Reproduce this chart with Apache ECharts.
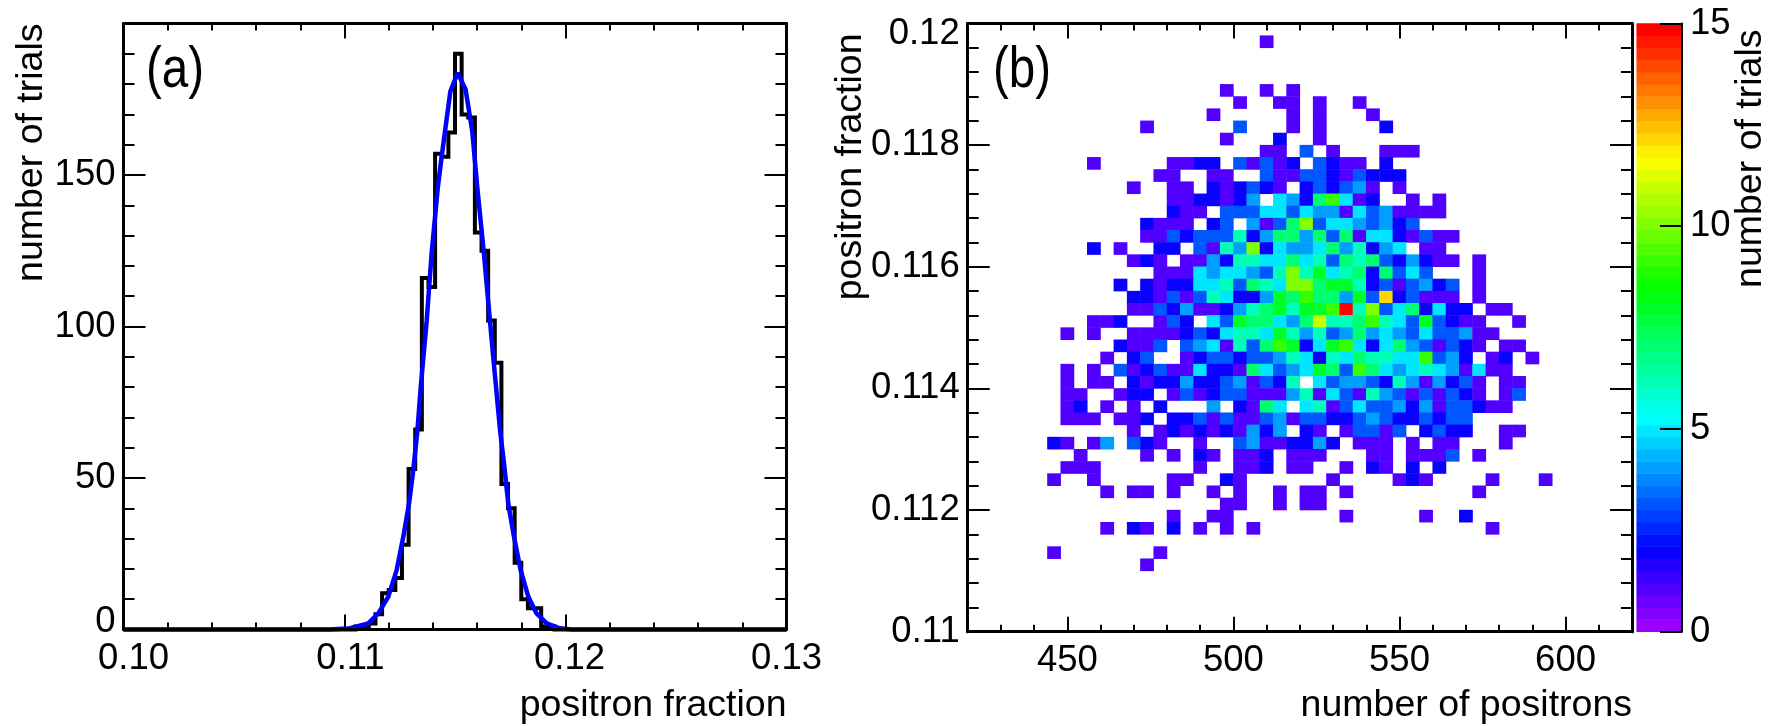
<!DOCTYPE html>
<html>
<head>
<meta charset="utf-8">
<style>html,body{margin:0;padding:0;background:#fff}#c{width:1779px;height:726px}</style>
<script src="https://cdn.jsdelivr.net/npm/echarts@6/dist/echarts.min.js"></script>
</head>
<body>
<div id="c"></div>
<script>
// ---- panel (a): histogram of positron fraction, 100 bins from 0.10 to 0.13
const histFirstBin = 35;
const histCounts = [1,1,2,5,12,13,17,28,53,66,116,113,157,156,164,190,170,169,131,125,102,88,48,40,22,10,7,7,1,1];
// fitted curve
const fitFraction = [0.10,0.10934,0.11025,0.11108,0.11153,0.11198,0.11236,0.11266,0.11292,0.11311,0.1133,0.11345,0.11372,0.11394,0.11422,0.11441,0.11455,0.11479,0.11512,0.11548,0.11578,0.11601,0.11631,0.11658,0.11676,0.11704,0.11722,0.11741,0.11767,0.11797,0.11832,0.11869,0.11915,0.11975,0.1203,0.13];
const fitTrials = [0,0,0.4,2,5.3,10.8,19.6,30.6,41.5,52.5,65.7,80,102,123.9,145.8,156.8,164.5,177.6,183.7,178.2,164.5,145.8,123.9,102,87.6,65.7,54.7,41.5,30.6,19.6,10.8,5.3,2,0.4,0,0];
const positronMajorTicks = [450,500,550,600];
// ---- panel (b): 2-D histogram, rows from top (row 48) to bottom (row 5), columns 6..43
const topRow = 48;
const firstColumn = 6;
const cellRows = [
 [0,0,0,0,0, 0,0,0,0,0, 0,0,0,0,0, 0,1,0,0,0, 0,0,0,0,0, 0,0,0,0,0, 0,0,0,0,0, 0,0,0],
 [0,0,0,0,0, 0,0,0,0,0, 0,0,0,0,0, 0,0,0,0,0, 0,0,0,0,0, 0,0,0,0,0, 0,0,0,0,0, 0,0,0],
 [0,0,0,0,0, 0,0,0,0,0, 0,0,0,0,0, 0,0,0,0,0, 0,0,0,0,0, 0,0,0,0,0, 0,0,0,0,0, 0,0,0],
 [0,0,0,0,0, 0,0,0,0,0, 0,0,0,0,0, 0,0,0,0,0, 0,0,0,0,0, 0,0,0,0,0, 0,0,0,0,0, 0,0,0],
 [0,0,0,0,0, 0,0,0,0,0, 0,0,0,1,0, 0,1,0,1,0, 0,0,0,0,0, 0,0,0,0,0, 0,0,0,0,0, 0,0,0],
 [0,0,0,0,0, 0,0,0,0,0, 0,0,0,0,1, 0,0,1,1,0, 1,0,0,1,0, 0,0,0,0,0, 0,0,0,0,0, 0,0,0],
 [0,0,0,0,0, 0,0,0,0,0, 0,0,1,0,0, 0,0,0,1,0, 1,0,0,0,1, 0,0,0,0,0, 0,0,0,0,0, 0,0,0],
 [0,0,0,0,0, 0,0,1,0,0, 0,0,0,0,3, 0,0,0,1,0, 1,0,0,0,0, 2,0,0,0,0, 0,0,0,0,0, 0,0,0],
 [0,0,0,0,0, 0,0,0,0,0, 0,0,0,1,0, 0,0,2,0,0, 1,0,0,0,0, 0,0,0,0,0, 0,0,0,0,0, 0,0,0],
 [0,0,0,0,0, 0,0,0,0,0, 0,0,0,0,0, 0,1,1,0,3, 0,1,0,0,0, 1,1,1,0,0, 0,0,0,0,0, 0,0,0],
 [0,0,0,1,0, 0,0,0,0,1, 1,2,2,0,3, 1,3,1,2,0, 3,2,1,1,0, 2,0,0,0,0, 0,0,0,0,0, 0,0,0],
 [0,0,0,0,0, 0,0,0,1,1, 0,0,1,1,0, 0,3,1,1,3, 3,2,1,3,2, 2,2,0,0,0, 0,0,0,0,0, 0,0,0],
 [0,0,0,0,0, 0,1,0,0,1, 1,0,2,1,2, 3,2,1,0,2, 3,2,3,4,1, 0,1,0,0,0, 0,0,0,0,0, 0,0,0],
 [0,0,0,0,0, 0,0,0,0,1, 1,2,2,1,2, 4,0,5,4,2, 7,9,5,1,2, 0,0,1,0,1, 0,0,0,0,0, 0,0,0],
 [0,0,0,0,0, 0,0,0,0,2, 1,1,0,3,3, 3,5,5,3,5, 4,4,1,5,3, 4,1,1,1,1, 0,0,0,0,0, 0,0,0],
 [0,0,0,0,0, 0,0,2,1,1, 1,0,2,3,0, 4,1,3,7,10, 3,5,5,4,3, 4,2,3,0,0, 0,0,0,0,0, 0,0,0],
 [0,0,0,0,0, 0,0,1,1,3, 2,3,3,3,6, 2,4,7,7,4, 7,3,7,1,5, 5,2,1,3,1, 1,0,0,0,0, 0,0,0],
 [0,0,0,2,0, 1,0,0,2,2, 0,3,1,6,4, 10,2,5,4,4, 5,7,4,6,2, 4,5,0,1,1, 0,0,0,0,0, 0,0,0],
 [0,0,0,0,0, 0,1,2,1,0, 1,1,4,2,6, 6,5,5,7,5, 6,3,7,6,7, 3,2,4,2,1, 1,0,1,0,0, 0,0,0],
 [0,0,0,0,0, 0,0,0,1,1, 1,5,4,5,5, 4,3,6,10,6, 8,5,6,7,2, 7,3,5,3,0, 0,0,1,0,0, 0,0,0],
 [0,0,0,0,0, 2,0,2,1,2, 2,5,5,6,3, 7,6,5,10,10, 7,8,8,6,2, 3,1,3,4,2, 3,0,1,0,0, 0,0,0],
 [0,0,0,0,0, 0,2,2,1,3, 1,3,6,5,2, 2,4,8,7,9, 7,7,4,8,3, 12,2,3,1,1, 1,0,1,0,0, 0,0,0],
 [0,0,0,0,0, 0,1,1,3,2, 4,1,1,2,4, 6,7,8,6,8, 8,9,15,6,10, 3,5,7,2,5, 2,2,0,1,1, 0,0,0],
 [0,0,0,1,1, 2,0,0,1,3, 2,0,5,3,8, 7,7,5,4,7, 11,6,6,7,9, 6,5,3,8,3, 2,1,1,0,0, 1,0,0],
 [0,1,0,1,0, 0,1,1,1,1, 2,3,2,5,6, 6,5,8,6,4, 6,3,4,7,4, 5,4,3,5,3, 3,4,1,1,0, 0,0,0],
 [0,0,0,0,0, 2,1,1,3,0, 3,4,5,1,6, 3,7,9,8,2, 5,8,9,5,2, 5,7,4,3,1, 3,2,1,0,1, 1,0,0],
 [0,0,0,0,1, 0,2,3,0,0, 1,2,3,3,2, 3,3,4,6,5, 2,6,5,7,6, 6,5,5,9,3, 4,2,0,1,2, 0,1,0],
 [0,1,0,1,0, 3,1,2,3,1, 1,5,2,2,1, 7,5,3,4,5, 8,7,3,9,7, 5,4,5,6,5, 4,1,5,1,1, 0,0,0],
 [0,1,0,1,1, 0,2,1,2,2, 4,2,2,3,4, 1,3,2,6,0, 5,3,4,4,3, 2,6,4,1,4, 2,3,1,0,1, 1,0,0],
 [0,1,1,0,0, 1,2,2,0,1, 3,1,2,3,3, 1,1,1,4,6, 1,5,3,1,6, 4,3,1,3,1, 3,2,1,0,1, 3,0,0],
 [0,1,2,0,1, 0,1,0,2,0, 0,0,4,0,2, 1,7,5,0,5, 6,1,3,5,3, 3,4,2,4,1, 3,3,2,1,1, 0,0,0],
 [0,1,1,1,0, 1,1,2,0,2, 2,3,1,3,1, 1,3,4,1,3, 3,2,2,3,4, 3,2,2,3,2, 3,3,0,0,0, 0,0,0],
 [0,0,0,0,0, 0,1,0,1,2, 1,2,1,2,1, 4,2,4,0,2, 1,0,1,3,3, 1,3,0,2,3, 2,2,0,0,1, 1,0,0],
 [2,1,0,1,4, 0,3,2,1,0, 0,1,0,0,3, 4,1,1,2,2, 4,2,0,1,1, 1,0,1,0,1, 1,0,0,0,1, 0,0,0],
 [0,0,1,0,0, 0,0,1,0,1, 0,2,1,0,1, 1,2,0,1,1, 1,0,0,0,1, 1,0,1,1,1, 3,0,1,0,0, 0,0,0],
 [0,1,1,1,0, 0,0,0,0,0, 0,1,0,0,1, 1,2,0,1,1, 0,0,1,0,2, 1,0,2,0,2, 0,0,0,0,0, 0,0,0],
 [1,0,0,1,0, 0,0,0,0,1, 1,0,0,2,1, 0,0,0,0,0, 0,1,0,0,0, 0,1,2,1,0, 0,0,0,1,0, 0,0,1],
 [0,0,0,0,1, 0,1,1,0,1, 0,0,1,0,1, 0,0,1,0,1, 1,0,1,0,0, 0,0,0,0,0, 0,0,1,0,0, 0,0,0],
 [0,0,0,0,0, 0,0,0,0,0, 0,0,0,1,1, 0,0,1,0,1, 1,0,0,0,0, 0,0,0,0,0, 0,0,0,0,0, 0,0,0],
 [0,0,0,0,0, 0,0,0,0,1, 0,0,1,1,0, 0,0,0,0,0, 0,0,1,0,0, 0,0,0,1,0, 0,2,0,0,0, 0,0,0],
 [0,0,0,0,1, 0,2,1,0,2, 0,1,0,1,0, 1,0,0,0,0, 0,0,0,0,0, 0,0,0,0,0, 0,0,0,1,0, 0,0,0],
 [0,0,0,0,0, 0,0,0,0,0, 0,0,0,0,0, 0,0,0,0,0, 0,0,0,0,0, 0,0,0,0,0, 0,0,0,0,0, 0,0,0],
 [1,0,0,0,0, 0,0,0,1,0, 0,0,0,0,0, 0,0,0,0,0, 0,0,0,0,0, 0,0,0,0,0, 0,0,0,0,0, 0,0,0],
 [0,0,0,0,0, 0,0,1,0,0, 0,0,0,0,0, 0,0,0,0,0, 0,0,0,0,0, 0,0,0,0,0, 0,0,0,0,0, 0,0,0]
];
const colorbarBands = 50;

const FONT = 'Liberation Sans';
const black = '#000';
const TICK_SIZE = 36.5, NAME_SIZE = 37.5;

// ---- derived series
const HIST_W = 0.0003;
const edge = k => +(0.10 + k * HIST_W).toFixed(4);
const histLine = [[0.10, 0]];
histCounts.forEach((n, k) => histLine.push([edge(histFirstBin + k), n]));
histLine.push([edge(histFirstBin + histCounts.length), 0], [0.13, 0]);
const fitLine = fitFraction.map((x, i) => [x, fitTrials[i]]);

const xBins = Array.from({length: 50}, (_, i) => String(420 + 4 * i));
const yBins = Array.from({length: 50}, (_, j) => (0.11 + 0.0002 * j).toFixed(4));
const cells = [];
cellRows.forEach((row, r) => row.forEach((n, c) => {
  if (n > 0) cells.push([firstColumn + c, topRow - r, n]);
}));
const bandIdx = Array.from({length: colorbarBands}, (_, i) => i);
const bandCells = bandIdx.map(i => [0, i, (i + 0.5) * 15 / colorbarBands]);
const pieces = bandIdx.map(i => ({
  gte: i * 15 / colorbarBands,
  lt: (i + 1) * 15 / colorbarBands + (i === colorbarBands - 1 ? 1 : 0),
  color: 'hsl(' + (276 - i * 276 / 49) + ',100%,50%)'
}));

// ---- axis helpers
const lineW = 3;
function frameAxis(o) {
  return Object.assign({
    type: 'value', z: 6, splitLine: {show: false},
    axisLine: {show: true, onZero: false, lineStyle: {color: black, width: lineW}},
    axisTick: {show: true, inside: true, length: o.major, lineStyle: {color: black, width: 2}},
    minorTick: {show: o.minor > 0, splitNumber: 5, length: o.minor, lineStyle: {color: black, width: 2}},
    axisLabel: {show: false}
  }, o.opt);
}
const tickFont = {color: black, fontFamily: FONT, fontSize: TICK_SIZE};
const nameX = (pad) => ({color: black, fontFamily: FONT, fontSize: NAME_SIZE, align: 'right', verticalAlign: 'top', padding: [pad, 0, 0, 0]});
const nameY = (vAlign, pad) => ({color: black, fontFamily: FONT, fontSize: NAME_SIZE, align: 'right', verticalAlign: vAlign,
  padding: vAlign === 'bottom' ? [0, 0, pad, 0] : [pad, 0, 0, 0]});

const chart = echarts.init(document.getElementById('c'), null, {renderer: 'canvas', width: 1779, height: 726});
const gA = {left: 123.5, top: 23.5, width: 663, height: 606};
const gB = {left: 967.7, top: 23.5, width: 664.3, height: 608.2};
const gC = {left: 1636.7, top: 23.5, width: 45.3, height: 608.2};

const posRange = {min: 420, max: 620};
chart.setOption({
  animation: false,
  backgroundColor: '#fff',
  grid: [gA, gB, gB, gC].map(g => Object.assign({containLabel: false}, g)),
  xAxis: [
    frameAxis({major: 15, minor: 7, opt: {gridIndex: 0, position: 'bottom', min: 0.10, max: 0.13, interval: 0.01,
      name: 'positron fraction', nameLocation: 'end', nameGap: 0, nameMoveOverlap: false, nameTextStyle: nameX(57),
      axisLabel: {show: true, margin: 11, showMinLabel: true, showMaxLabel: true, hideOverlap: false, ...tickFont,
        formatter: v => {
          const s = v.toFixed(2);
          return s === '0.10' ? '{a|0.10}' : s === '0.11' ? '{b|0.11}' : s === '0.12' ? '{c|0.12}' : s;
        },
        rich: {a: {...tickFont, padding: [0, 0, 0, 20]}, b: {...tickFont, padding: [0, 0, 0, 12]}, c: {...tickFont, padding: [0, 0, 0, 8]}}}}}),
    frameAxis({major: 15, minor: 7, opt: {gridIndex: 0, position: 'top', min: 0.10, max: 0.13, interval: 0.01}}),
    // panel (b): minor ticks every 10 on one axis, major ticks and labels on another over the same range
    frameAxis({major: 7, minor: 0, opt: {gridIndex: 1, position: 'bottom', ...posRange, interval: 10,
      name: 'number of positrons', nameLocation: 'end', nameGap: 0, nameMoveOverlap: false, nameTextStyle: nameX(55)}}),
    frameAxis({major: 7, minor: 0, opt: {gridIndex: 1, position: 'top', ...posRange, interval: 10}}),
    frameAxis({major: 15, minor: 0, opt: {gridIndex: 2, position: 'bottom', ...posRange,
      axisTick: {show: true, inside: true, length: 15, lineStyle: {color: black, width: 2}, customValues: positronMajorTicks},
      axisLabel: {show: true, margin: 11, hideOverlap: false, ...tickFont, customValues: positronMajorTicks}}}),
    frameAxis({major: 15, minor: 0, opt: {gridIndex: 2, position: 'top', ...posRange,
      axisTick: {show: true, inside: true, length: 15, lineStyle: {color: black, width: 2}, customValues: positronMajorTicks}}}),
    {type: 'category', gridIndex: 2, data: xBins, show: false},
    {type: 'category', gridIndex: 3, data: ['band'], show: false}
  ],
  yAxis: [
    frameAxis({major: 22, minor: 11, opt: {gridIndex: 0, position: 'left', min: 0, max: 200, interval: 50,
      name: 'number of trials', nameLocation: 'end', nameRotate: 90, nameGap: 0, nameMoveOverlap: false,
      nameTextStyle: nameY('bottom', 73),
      axisLabel: {show: true, margin: 8, hideOverlap: false, ...tickFont,
        formatter: v => v === 0 ? '{z|0}' : (v >= 200 ? '' : String(v)),
        rich: {z: {...tickFont, padding: [0, 0, 15, 0]}}}}}),
    frameAxis({major: 22, minor: 11, opt: {gridIndex: 0, position: 'right', min: 0, max: 200, interval: 50}}),
    frameAxis({major: 22, minor: 11, opt: {gridIndex: 1, position: 'left', min: 0.11, max: 0.12, interval: 0.002,
      name: 'positron fraction', nameLocation: 'end', nameRotate: 90, nameGap: -10, nameMoveOverlap: false,
      nameTextStyle: nameY('bottom', 98),
      axisLabel: {show: true, margin: 8, hideOverlap: false, ...tickFont,
        formatter: v => { const s = String(+v.toFixed(3)); return s === '0.12' ? '{t|0.12}' : s; },
        rich: {t: {...tickFont, padding: [20, 0, 0, 0]}}}}}),
    frameAxis({major: 22, minor: 11, opt: {gridIndex: 1, position: 'right', min: 0.11, max: 0.12, interval: 0.002}}),
    {type: 'category', gridIndex: 2, data: yBins, show: false},
    {type: 'category', gridIndex: 3, data: bandIdx.map(String), show: false},
    {type: 'value', gridIndex: 3, position: 'right', z: 6, min: 0, max: 15, interval: 5, splitLine: {show: false},
      axisLine: {show: true, onZero: false, lineStyle: {color: black, width: 2}},
      axisTick: {show: true, inside: true, length: 22, lineStyle: {color: black, width: 2}},
      minorTick: {show: false},
      axisLabel: {show: true, margin: 8, hideOverlap: false, ...tickFont},
      name: 'number of trials', nameLocation: 'end', nameRotate: 90, nameGap: -6, nameMoveOverlap: false,
      nameTextStyle: nameY('top', 50)}
  ],
  visualMap: {type: 'piecewise', show: false, dimension: 2, seriesIndex: [2, 3], pieces: pieces},
  series: [
    {name: 'histogram', type: 'line', xAxisIndex: 0, yAxisIndex: 0, step: 'end', data: histLine, showSymbol: false, symbol: 'none', clip: false, z: 2,
      lineStyle: {color: black, width: 4, join: 'miter'}},
    {name: 'fit', type: 'line', xAxisIndex: 0, yAxisIndex: 0, data: fitLine, showSymbol: false, symbol: 'none', clip: false, z: 3,
      lineStyle: {color: '#0000ff', width: 4.5}},
    {name: 'trials', type: 'heatmap', xAxisIndex: 6, yAxisIndex: 4, data: cells, progressive: 0, emphasis: {disabled: true}},
    {name: 'colorbar', type: 'heatmap', xAxisIndex: 7, yAxisIndex: 5, data: bandCells, progressive: 0, emphasis: {disabled: true}}
  ],
  graphic: [
    {type: 'text', x: 146, y: 42, scaleX: 0.82, style: {text: '(a)', fill: black, font: '58px "Liberation Sans"'}},
    {type: 'text', x: 993, y: 42, scaleX: 0.82, style: {text: '(b)', fill: black, font: '58px "Liberation Sans"'}}
  ]
});
</script>
</body>
</html>
